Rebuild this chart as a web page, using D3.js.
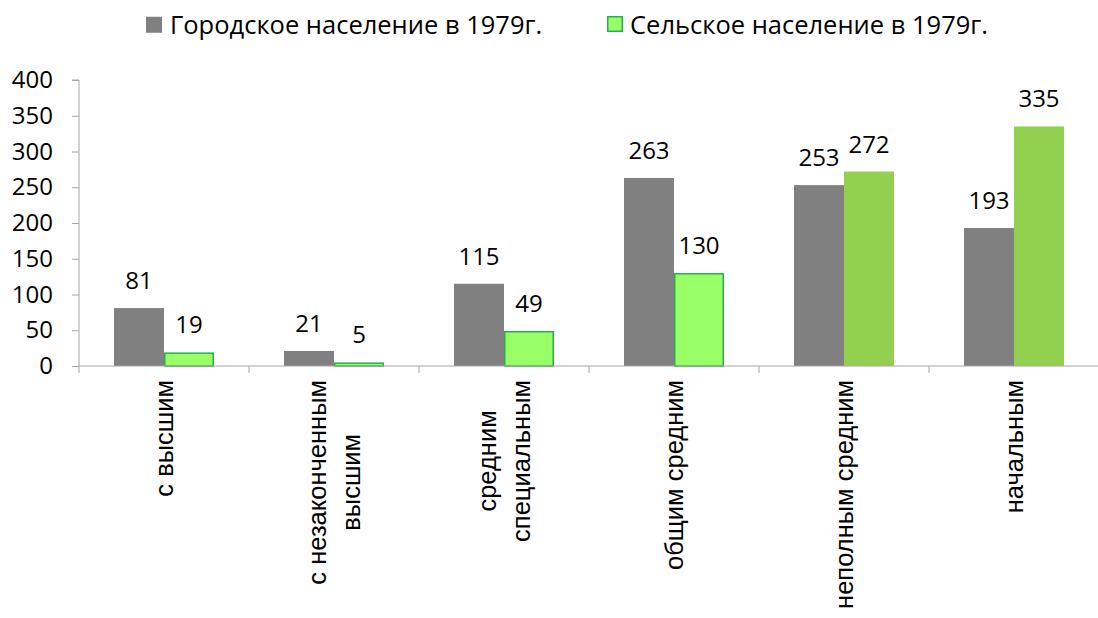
<!DOCTYPE html>
<html><head><meta charset="utf-8">
<script src="https://cdn.jsdelivr.net/npm/d3@7"></script>
<style>
html,body{margin:0;padding:0;background:#fff;}
svg{display:block;}
</style></head>
<body>
<svg id="chart" width="1098" height="618"></svg>
<script>
const categories = [
  ["с высшим"],
  ["с незаконченным", "высшим"],
  ["средним", "специальным"],
  ["общим средним"],
  ["неполным средним"],
  ["начальным"]
];
const urbanValues = [81, 21, 115, 263, 253, 193];
const ruralValues = [19, 5, 49, 130, 272, 335];
const seriesNames = ["Городское население в 1979г.", "Сельское население в 1979г."];
const yTicks = [0, 50, 100, 150, 200, 250, 300, 350, 400];

const svg = d3.select("#chart");
const plotL = 79, plotR = 1099, plotT = 80, plotB = 366;
const numFont = "'Open Sans', sans-serif";
const catFont = "'Liberation Sans', Arial, sans-serif";

const x = d3.scaleBand().domain(d3.range(categories.length)).range([plotL, plotR]).paddingInner(0).paddingOuter(0);
const y = d3.scaleLinear().domain([0, 400]).range([plotB, plotT]);
const inner = d3.scaleBand().domain([0, 1]).range([35, 135]);

const axisColor = "#a6a6a6";

// y axis
const yAxis = svg.append("g").attr("transform", `translate(${plotL},0)`)
  .call(d3.axisLeft(y).tickValues(yTicks).tickSize(7).tickPadding(19).tickFormat(d3.format("d")));
yAxis.select(".domain").attr("stroke", axisColor).attr("d", `M-7,${plotT}H0V${plotB}`);
yAxis.selectAll(".tick line").attr("stroke", axisColor);
yAxis.selectAll(".tick text").attr("font-family", numFont).attr("font-size", 24).attr("fill", "#000");

// bars
const gBars = svg.append("g");
gBars.selectAll("rect.u").data(urbanValues).join("rect").attr("class", "u")
  .attr("x", (d, i) => x(i) + inner(0)).attr("width", inner.bandwidth())
  .attr("y", d => y(d)).attr("height", d => y(0) - y(d)).attr("fill", "#808080");
gBars.selectAll("rect.r").data(ruralValues).join("rect").attr("class", "r")
  .attr("x", (d, i) => x(i) + inner(1) + (i < 4 ? 0.75 : 0)).attr("width", (d, i) => inner.bandwidth() - (i < 4 ? 1.5 : 0))
  .attr("y", (d, i) => y(d) + (i < 4 ? 0.75 : 0)).attr("height", (d, i) => y(0) - y(d) - (i < 4 ? 0.75 : 0))
  .attr("fill", (d, i) => i < 4 ? "#99ff66" : "#92d050")
  .attr("stroke", (d, i) => i < 4 ? "#22b14c" : "none").attr("stroke-width", 1.5);

// x axis
const xAxis = svg.append("g").attr("transform", `translate(0,${plotB})`);
xAxis.append("line").attr("x1", plotL).attr("x2", plotR).attr("y1", 0).attr("y2", 0).attr("stroke", axisColor);
xAxis.selectAll("line.t").data(d3.range(categories.length + 1)).join("line").attr("class", "t")
  .attr("x1", i => i < categories.length ? x(i) : plotR).attr("x2", i => i < categories.length ? x(i) : plotR)
  .attr("y1", 0).attr("y2", 7).attr("stroke", axisColor);

// value labels
const gLab = svg.append("g").attr("font-family", numFont).attr("font-size", 24).attr("text-anchor", "middle").attr("fill", "#000");
gLab.selectAll("text.u").data(urbanValues).join("text").attr("class", "u")
  .attr("x", (d, i) => x(i) + inner(0) + inner.bandwidth() / 2).attr("y", d => y(d) - 19).text(d => d);
gLab.selectAll("text.r").data(ruralValues).join("text").attr("class", "r")
  .attr("x", (d, i) => x(i) + inner(1) + inner.bandwidth() / 2).attr("y", d => y(d) - 19).text(d => d);

// category labels
const gCat = svg.append("g").attr("font-family", catFont).attr("font-size", 25.5).attr("fill", "#000");
categories.forEach((lines, i) => {
  const cx = x(i) + x.bandwidth() / 2;
  const g = gCat.append("g").attr("transform", `translate(${cx},380) rotate(-90)`);
  const lh = 34;
  const texts = lines.map((t, j) => g.append("text").attr("dominant-baseline", "central")
    .attr("y", (j - (lines.length - 1) / 2) * lh).text(t));
  const maxW = d3.max(texts, t => t.node().getComputedTextLength());
  texts.forEach(t => t.attr("text-anchor", "middle").attr("x", -maxW / 2));
});

// legend
const legend = svg.append("g").attr("font-family", numFont).attr("font-size", 25.5);
const legX = [146, 607];
const legTextX = [170, 630];
seriesNames.forEach((name, k) => {
  legend.append("rect").attr("x", legX[k] + (k ? 0.75 : 0)).attr("y", 16.75).attr("width", 16 - (k ? 1.5 : 0)).attr("height", 16 - (k ? 1.5 : 0))
    .attr("fill", k ? "#99ff66" : "#808080").attr("stroke", k ? "#22b14c" : "none").attr("stroke-width", 1.5);
  legend.append("text").attr("x", legTextX[k]).attr("y", 24).attr("dominant-baseline", "central").text(name);
});
</script>
</body></html>
